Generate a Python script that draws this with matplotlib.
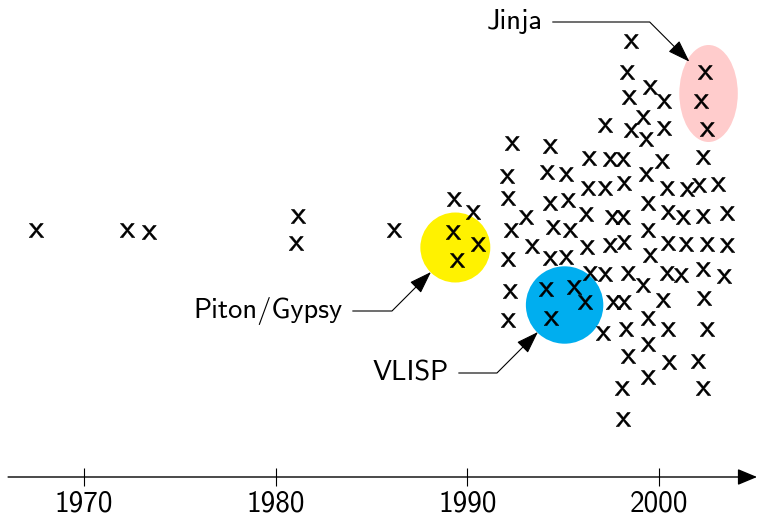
import matplotlib
matplotlib.use("Agg")
from matplotlib import pyplot as plt
from matplotlib.patches import Ellipse

plt.rcParams["font.family"] = ["cmss10", "DejaVu Sans"]
plt.rcParams["mathtext.fontset"] = "cm"
plt.rcParams["axes.unicode_minus"] = False

# one "x" per system: year and vertical slot
years = [
    1967.50, 1972.24, 1973.39, 1981.16, 1981.06, 1986.17,
    1989.30, 1990.29, 1989.25, 1990.55, 1989.46,
    1992.33, 1992.07, 1992.12, 1992.27, 1992.12, 1992.22, 1992.12, 1993.06, 1993.37,
    1994.31, 1994.15, 1995.14, 1994.31, 1995.25, 1994.47, 1995.35, 1994.31, 1995.14,
    1994.10, 1995.56, 1996.13, 1994.36,
    1997.18, 1996.34, 1997.44, 1998.12, 1996.29, 1997.18, 1998.17, 1996.19, 1997.54,
    1998.12, 1996.24, 1997.44, 1998.17, 1996.40, 1997.18, 1998.38, 1997.60, 1998.17,
    1997.07, 1998.27, 1998.38, 1998.06, 1998.12,
    1998.53, 1998.33, 1999.53, 1998.43, 2000.26, 1999.16, 1998.53, 1999.32, 2000.26,
    2002.39, 2002.19, 2002.50,
    2000.15, 2002.29, 1999.32, 2000.41, 2001.46, 2002.08, 2003.07, 1999.43, 2000.46,
    2001.25, 2002.29, 2003.54, 1999.43, 2000.46, 2001.40, 2002.50, 2003.54, 1999.53,
    1999.16, 2000.41, 2001.14, 2002.29, 2003.39, 2000.20, 2002.35, 1999.43, 2000.46,
    2002.50, 1999.43, 2000.52, 2002.03, 1999.43, 2002.29,
]
heights = [
    289, 289, 287, 303, 276, 289,
    320, 307, 287, 275, 259,
    376, 343, 321, 289, 260, 228, 199, 302, 273,
    373, 347, 345, 316, 319, 292, 289, 261, 262,
    230, 232, 217, 201,
    394, 361, 360, 360, 331, 331, 336, 305, 302,
    302, 272, 274, 277, 246, 245, 246, 217, 217,
    186, 190, 163, 131, 100,
    478, 447, 432, 422, 418, 402, 389, 380, 391,
    447, 418, 390,
    358, 362, 345, 331, 330, 334, 335, 316, 307,
    302, 303, 306, 289, 276, 275, 275, 274, 264,
    234, 246, 244, 250, 243, 219, 221, 201, 190,
    190, 175, 157, 158, 142, 131,
]

tick_years = [1970, 1980, 1990, 2000]

# highlighted systems
hl_names = ["Piton/Gypsy", "VLISP", "Jinja"]
hl_colors = ["#FFF200", "#00AEEF", "#FFCCCC"]
hl_x = [1989.37, 1995.07, 2002.58]
hl_y = [271.5, 214.0, 425.5]
hl_w = [3.65, 4.04, 3.05]
hl_h = [70, 77.4, 97]

fig = plt.figure(figsize=(7.58, 5.19), dpi=100)
ax = fig.add_axes([0, 0, 1, 1])
ax.set_xlim(1965.618, 2005.159)
ax.set_ylim(0, 519)

for x, y, w, h, c in zip(hl_x, hl_y, hl_w, hl_h, hl_colors):
    ax.add_patch(Ellipse((x, y), w, h, facecolor=c, edgecolor="none", zorder=1))

ax.plot(years, heights, ls="none", marker=r"$\mathsf{x}$", ms=10.5, mew=0.4,
        color="black", zorder=3)

# labels with bent arrows
label_pos = [(1983.51, 208), (1989.04, 146), (1993.94, 497)]
arrow_tip = [(1988.10, 247), (1993.68, 187), (2001.58, 457.3)]
bend = [45, 45, -45]
for name, (tx, ty), (px, py), b in zip(hl_names, label_pos, arrow_tip, bend):
    ax.annotate(name, xy=(px, py), xytext=(tx, ty), ha="right", va="center",
                fontsize=20.5, zorder=4,
                arrowprops=dict(arrowstyle="-|>,head_length=0.7,head_width=0.24",
                                connectionstyle=f"angle,angleA=0,angleB={b},rad=0",
                                color="black", lw=0.8, shrinkA=5, shrinkB=0,
                                mutation_scale=20))

# time axis
axis_y = 42
ax.annotate("", xy=(2005.11, axis_y), xytext=(1966.04, axis_y),
            arrowprops=dict(arrowstyle="-|>,head_length=0.6,head_width=0.25",
                            color="black", lw=1.0, shrinkA=0, shrinkB=0,
                            mutation_scale=20))
for s in ax.spines.values():
    s.set_visible(False)
ax.spines["bottom"].set_position(("data", axis_y))
ax.set_xticks(tick_years)
ax.set_yticks([])
ax.tick_params(axis="x", direction="inout", length=13, width=0.8, pad=3,
               labelsize=21)

fig.savefig("out.png", dpi=100)
